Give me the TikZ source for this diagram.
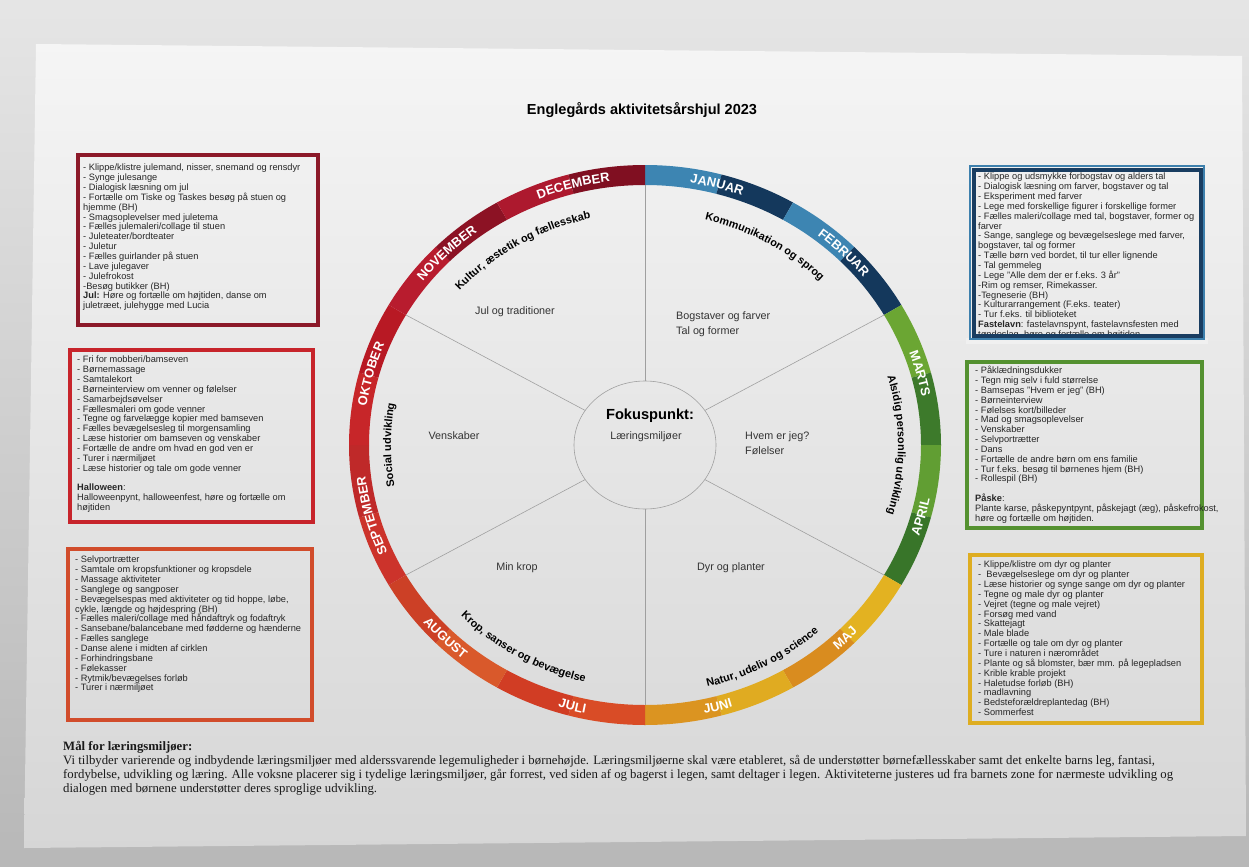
\documentclass[tikz,border=0pt]{standalone}
\usepackage{fontspec}
\setmainfont{Liberation Sans}
\newfontfamily\serifbody{Liberation Serif}
\usepackage{tikz}
\usetikzlibrary{shapes.geometric, decorations.text}
\definecolor{bgtop}{rgb}{0.90,0.90,0.90}
\definecolor{bgbot}{rgb}{0.72,0.72,0.72}
\definecolor{papertop}{rgb}{0.96,0.96,0.96}
\definecolor{paperbot}{rgb}{0.84,0.84,0.84}
\definecolor{decred}{rgb}{0.55,0.10,0.16}
\definecolor{octred}{rgb}{0.78,0.14,0.17}
\definecolor{augorange}{rgb}{0.82,0.30,0.17}
\definecolor{janblue}{rgb}{0.10,0.24,0.38}
\definecolor{steelblue}{rgb}{0.24,0.50,0.68}
\definecolor{margreen}{rgb}{0.33,0.57,0.19}
\definecolor{majgold}{rgb}{0.87,0.68,0.13}
% ring colours
\definecolor{janlight}{rgb}{0.24,0.52,0.70}
\definecolor{jandark}{rgb}{0.08,0.22,0.36}
\definecolor{marlight}{rgb}{0.42,0.65,0.20}
\definecolor{mardark}{rgb}{0.24,0.48,0.17}
\definecolor{aprlight}{rgb}{0.38,0.62,0.20}
\definecolor{aprdark}{rgb}{0.22,0.46,0.16}
\definecolor{majlight}{rgb}{0.89,0.70,0.13}
\definecolor{majdark}{rgb}{0.85,0.55,0.12}
\definecolor{junlight}{rgb}{0.88,0.67,0.13}
\definecolor{jundark}{rgb}{0.86,0.58,0.13}
\definecolor{jullight}{rgb}{0.85,0.30,0.15}
\definecolor{juldark}{rgb}{0.82,0.24,0.14}
\definecolor{auglight}{rgb}{0.85,0.35,0.17}
\definecolor{augdark}{rgb}{0.80,0.25,0.15}
\definecolor{seplight}{rgb}{0.80,0.20,0.17}
\definecolor{sepdark}{rgb}{0.75,0.16,0.16}
\definecolor{oktlight}{rgb}{0.78,0.15,0.16}
\definecolor{oktdark}{rgb}{0.72,0.10,0.14}
\definecolor{novlight}{rgb}{0.72,0.11,0.18}
\definecolor{novdark}{rgb}{0.55,0.07,0.14}
\definecolor{declight}{rgb}{0.68,0.10,0.18}
\definecolor{decdark}{rgb}{0.50,0.06,0.13}
\newcommand{\boxfont}{\fontsize{7.9}{8.4}\selectfont}
\newcommand{\monthfont}{\fontsize{11}{13}\selectfont\bfseries}
\newcommand{\themefont}{\fontsize{9.3}{11}\selectfont\bfseries}
\newcommand{\sectorfont}{\fontsize{9.2}{12.5}\selectfont}

\begin{document}
\begin{tikzpicture}[x=0.03cm, y=0.03cm,
    boxframe/.style={line width=3.2pt},
    listtext/.style={anchor=north west, align=left, inner sep=0pt, font=\boxfont, text=black!85},
    sector/.style={font=\sectorfont, text=black!80, inner sep=0pt, align=left},
    spoke/.style={gray!75, line width=0.5pt},
    hub/.style={ellipse, draw=gray!75, line width=0.5pt, minimum width=4.26cm, minimum height=3.84cm},
    themearc/.style={decorate, decoration={text along path, text align=center, text={|\themefont|#1}}}]
  \useasboundingbox (0,0) rectangle (1249,-867);
  \shade[top color=bgtop, bottom color=bgbot] (0,0) rectangle (1249,-867);
  \shade[top color=papertop, bottom color=paperbot] (36,-44) -- (1242,-56) -- (1246,-836) -- (24,-848) -- cycle;

  \node[font=\fontsize{12.4}{14}\selectfont\bfseries] (title) at (642,-110) {Englegårds aktivitetsårshjul 2023};

  % the wheel
  \begin{scope}[shift={(645,-445)}]
    \foreach \ca/\cb [count=\i from 0] in {janlight/jandark, janlight/jandark, marlight/mardark, aprlight/aprdark,
        majlight/majdark, junlight/jundark, jullight/juldark, auglight/augdark, seplight/sepdark,
        oktlight/oktdark, novlight/novdark, declight/decdark} {
      \pgfmathsetmacro{\sa}{90-30*\i}
      \pgfmathsetmacro{\sm}{\sa-15}
      \pgfmathsetmacro{\se}{\sa-30}
      \fill[\ca] (\sa:296 and 280) arc[start angle=\sa, end angle=\sm, x radius=296, y radius=280]
        -- (\sm:276 and 260) arc[start angle=\sm, end angle=\sa, x radius=276, y radius=260] -- cycle;
      \fill[\cb] (\sm:296 and 280) arc[start angle=\sm, end angle=\se, x radius=296, y radius=280]
        -- (\se:276 and 260) arc[start angle=\se, end angle=\sm, x radius=276, y radius=260] -- cycle;
    }
    % month names
    \foreach \mon/\m in {JANUAR/75, FEBRUAR/45, MARTS/15, SEPTEMBER/195, OKTOBER/165, NOVEMBER/135, DECEMBER/105} {
      \pgfmathsetmacro{\ta}{\m+40}
      \pgfmathsetmacro{\tb}{\m-40}
      \path[decorate, decoration={text along path, text align=center, text color=white,
          text/.expanded={|\noexpand\monthfont|\mon}}]
        (\ta:281.5 and 265.5) arc[start angle=\ta, end angle=\tb, x radius=281.5, y radius=265.5];
    }
    \foreach \mon/\m in {APRIL/-15, MAJ/-45, JUNI/-75, JULI/-105, AUGUST/-135} {
      \pgfmathsetmacro{\ta}{\m-40}
      \pgfmathsetmacro{\tb}{\m+40}
      \path[decorate, decoration={text along path, text align=center, text color=white,
          text/.expanded={|\noexpand\monthfont|\mon}}]
        (\ta:290.5 and 274.5) arc[start angle=\ta, end angle=\tb, x radius=290.5, y radius=274.5];
    }

    \node[hub] (hub) at (0,0) {};
    \foreach \a in {30,90,...,330} {
      \coordinate (rim\a) at (\a:276 and 260);
      \draw[spoke] (hub.\a) -- (rim\a);
    }

    % themes
    \path[themearc={Kultur, æstetik og fællesskab}] (161:248 and 232) arc[start angle=161, end angle=81, x radius=248, y radius=232];
    \path[themearc={Kommunikation og sprog}] (100:248 and 232) arc[start angle=100, end angle=20, x radius=248, y radius=232];
    \path[themearc={Alsidig personlig udvikling}] (40:253 and 239) arc[start angle=40, end angle=-40, x radius=253, y radius=239];
    \path[themearc={Social udvikling}] (220:254 and 240) arc[start angle=220, end angle=140, x radius=254, y radius=240];
    \path[themearc={Krop, sanser og bevægelse}] (200:258 and 244) arc[start angle=200, end angle=280, x radius=258, y radius=244];
    \path[themearc={Natur, udeliv og science}] (258:263 and 249) arc[start angle=258, end angle=338, x radius=263, y radius=249];

    % sector contents
    \node[font=\fontsize{12.5}{14}\selectfont\bfseries, inner sep=0pt] (fokus) at (5,29.5) {Fokuspunkt:};
    \node[sector] (laering) at (1,8) {Læringsmiljøer};
    \node[sector] (jul) at (-130,133) {Jul og traditioner};
    \node[sector, anchor=west] (bogstav) at (31,121) {Bogstaver og farver\\Tal og former};
    \node[sector] (venskab) at (-191,9) {Venskaber};
    \node[sector, anchor=west] (hvem) at (100,2) {Hvem er jeg?\\Følelser};
    \node[sector] (minkrop) at (-128,-123) {Min krop};
    \node[sector] (dyr) at (86,-123) {Dyr og planter};
  \end{scope}

  % activity boxes, left
  \draw[boxframe, decred] (78,-155) rectangle (318,-325);
  \node[listtext] (declist) at (83,-164) {- Klippe/klistre julemand, nisser, snemand og rensdyr\\
    - Synge julesange\\
    - Dialogisk læsning om jul\\
    - Fortælle om Tiske og Taskes besøg på stuen og\\
    hjemme (BH)\\
    - Smagsoplevelser med juletema\\
    - Fælles julemaleri/collage til stuen\\
    - Juleteater/bordteater\\
    - Juletur\\
    - Fælles guirlander på stuen\\
    - Lave julegaver\\
    - Julefrokost\\
    -Besøg butikker (BH)\\
    \textbf{Jul:} Høre og fortælle om højtiden, danse om\\
    juletræet, julehygge med Lucia};

  \draw[boxframe, octred] (70,-350) rectangle (313,-522);
  \node[listtext] (octlist) at (77,-356) {- Fri for mobberi/bamseven\\
    - Børnemassage\\
    - Samtalekort\\
    - Børneinterview om venner og følelser\\
    - Samarbejdsøvelser\\
    - Fællesmaleri om gode venner\\
    - Tegne og farvelægge kopier med bamseven\\
    - Fælles bevægelsesleg til morgensamling\\
    - Læse historier om bamseven og venskaber\\
    - Fortælle de andre om hvad en god ven er\\
    - Turer i nærmiljøet\\
    - Læse historier og tale om gode venner\\[8.4pt]
    \textbf{Halloween}:\\
    Halloweenpynt, halloweenfest, høre og fortælle om\\
    højtiden};

  \draw[boxframe, augorange] (68,-549) rectangle (312,-720);
  \node[listtext] (auglist) at (75,-556) {- Selvportrætter\\
    - Samtale om kropsfunktioner og kropsdele\\
    - Massage aktiviteter\\
    - Sanglege og sangposer\\
    - Bevægelsespas med aktiviteter og tid hoppe, løbe,\\
    cykle, længde og højdespring (BH)\\
    - Fælles maleri/collage med håndaftryk og fodaftryk\\
    - Sansebane/balancebane med fødderne og hænderne\\
    - Fælles sanglege\\
    - Danse alene i midten af cirklen\\
    - Forhindringsbane\\
    - Følekasser\\
    - Rytmik/bevægelses forløb\\
    - Turer i nærmiljøet};

  % activity boxes, right
  \node[listtext] (janlist) at (978,-173) {- Klippe og udsmykke forbogstav og alders tal\\
    - Dialogisk læsning om farver, bogstaver og tal\\
    - Eksperiment med farver\\
    - Lege med forskellige figurer i forskellige former\\
    - Fælles maleri/collage med tal, bogstaver, former og\\
    farver\\
    - Sange, sanglege og bevægelseslege med farver,\\
    bogstaver, tal og former\\
    - Tælle børn ved bordet, til tur eller lignende\\
    - Tal gemmeleg\\
    - Lege "Alle dem der er f.eks. 3 år"\\
    -Rim og remser, Rimekasser.\\
    -Tegneserie (BH)\\
    - Kulturarrangement (F.eks. teater)\\
    - Tur f.eks. til biblioteket\\
    \textbf{Fastelavn}: fastelavnspynt, fastelavnsfesten med\\
    tøndeslag, høre og fortælle om højtiden};
  \fill[papertop!85!paperbot] (966,-338) rectangle (1208,-344);
  \draw[line width=1pt, steelblue] (970,-166) rectangle (1204,-339);
  \draw[boxframe, janblue] (974,-170) rectangle (1201,-336);

  \draw[boxframe, margreen] (967,-362) rectangle (1202,-528);
  \node[listtext] (marlist) at (975,-366) {- Påklædningsdukker\\
    - Tegn mig selv i fuld størrelse\\
    - Bamsepas "Hvem er jeg" (BH)\\
    - Børneinterview\\
    - Følelses kort/billeder\\
    - Mad og smagsoplevelser\\
    - Venskaber\\
    - Selvportrætter\\
    - Dans\\
    - Fortælle de andre børn om ens familie\\
    - Tur f.eks. besøg til børnenes hjem (BH)\\
    - Rollespil (BH)\\[8.4pt]
    \textbf{Påske}:\\
    Plante karse, påskepyntpynt, påskejagt (æg), påskefrokost,\\
    høre og fortælle om højtiden.};

  \draw[boxframe, majgold] (970,-555) rectangle (1202,-723);
  \node[listtext] (majlist) at (978,-561) {- Klippe/klistre om dyr og planter\\
    -\ \ Bevægelseslege om dyr og planter\\
    - Læse historier og synge sange om dyr og planter\\
    - Tegne og male dyr og planter\\
    - Vejret (tegne og male vejret)\\
    - Forsøg med vand\\
    - Skattejagt\\
    - Male blade\\
    - Fortælle og tale om dyr og planter\\
    - Ture i naturen i nærområdet\\
    - Plante og så blomster, bær mm. på legepladsen\\
    - Krible krable projekt\\
    - Haletudse forløb (BH)\\
    - madlavning\\
    - Bedsteforældreplantedag (BH)\\
    - Sommerfest};

  % goal text
  \node[anchor=north west, align=left, inner sep=0pt, text=black!90,
      font=\serifbody\fontsize{10.9}{11.9}\selectfont] (goal) at (63,-741)
    {\textbf{Mål for læringsmiljøer:}\\
    Vi tilbyder varierende og indbydende læringsmiljøer med alderssvarende legemuligheder i børnehøjde. Læringsmiljøerne skal være etableret, så de understøtter børnefællesskaber samt det enkelte barns leg, fantasi,\\
    fordybelse, udvikling og læring. Alle voksne placerer sig i tydelige læringsmiljøer, går forrest, ved siden af og bagerst i legen, samt deltager i legen. Aktiviteterne justeres ud fra barnets zone for nærmeste udvikling og\\
    dialogen med børnene understøtter deres sproglige udvikling.};
\end{tikzpicture}
\end{document}
